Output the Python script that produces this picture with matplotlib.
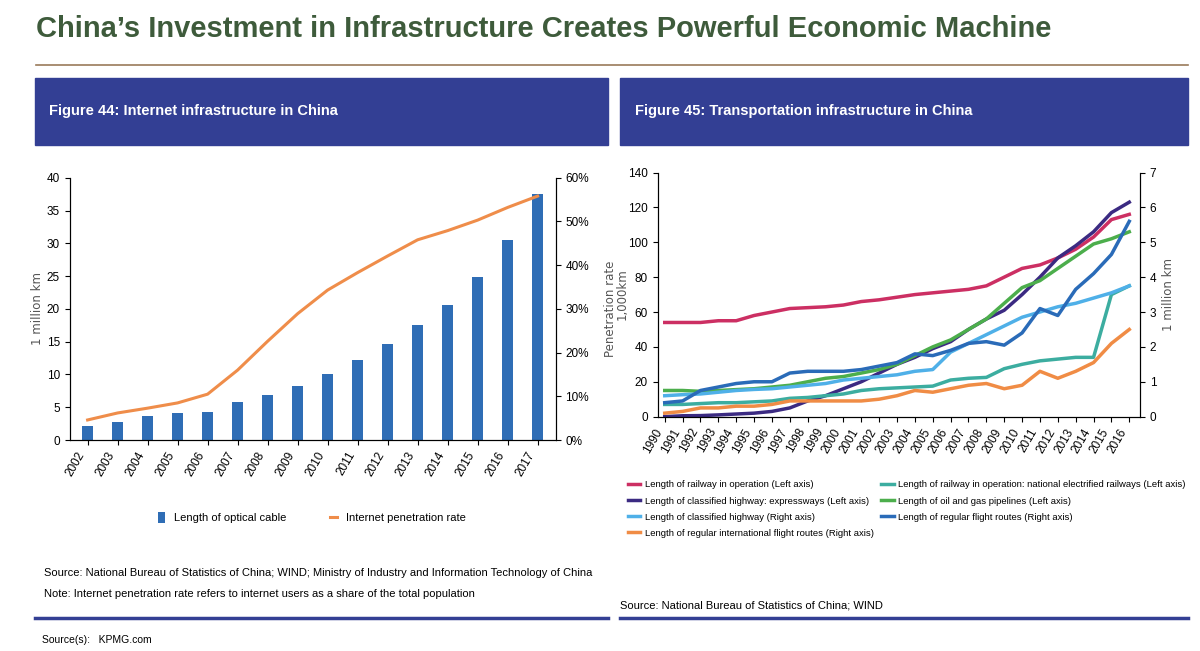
import matplotlib
matplotlib.use("Agg")
import matplotlib.pyplot as plt
import numpy as np
from matplotlib.patches import Rectangle

plt.rcParams['font.family'] = ['Liberation Sans', 'DejaVu Sans']

# Figure 44 data
cable_years = [str(y) for y in range(2002, 2018)]
cable_len = [2.2, 2.7, 3.6, 4.1, 4.3, 5.8, 6.9, 8.3, 10.1, 12.2, 14.7, 17.5, 20.6, 24.9, 30.5, 37.5]
penetration = [4.6, 6.2, 7.3, 8.5, 10.5, 16.0, 22.6, 28.9, 34.3, 38.3, 42.1, 45.8, 47.9, 50.3, 53.2, 55.8]

# Figure 45 data (1990-2016)
trans_years = list(range(1990, 2017))
railway = [54, 54, 54, 55, 55, 58, 60, 62, 62.5, 63, 64, 66, 67, 68.5, 70, 71, 72, 73, 75, 80, 85, 87, 91, 96, 103, 113, 116]
electrified = [7, 7, 7.5, 8, 8, 8.5, 9, 10.5, 11, 12, 13, 15, 16, 16.5, 17, 17.5, 21, 22, 22.5, 27.5, 30, 32, 33, 34, 34, 70, 75]
expressways = [0, 0.5, 0.6, 1, 1.5, 2, 3, 5, 9, 12, 16, 20, 25, 30, 34, 39, 43, 50, 56, 61, 70, 80, 91, 98, 106, 117, 123]
pipelines = [15, 15, 14.5, 15, 15.5, 16, 17, 18, 20, 22, 23, 25, 27, 30, 35, 40, 44, 50, 56, 65, 74, 78, 85, 92, 99, 102, 106]
highway = [0.60, 0.63, 0.65, 0.70, 0.75, 0.78, 0.80, 0.85, 0.90, 0.95, 1.05, 1.10, 1.15, 1.20, 1.30, 1.35, 1.85, 2.10, 2.35, 2.60, 2.85, 3.00, 3.15, 3.25, 3.40, 3.55, 3.75]
flight = [0.40, 0.45, 0.75, 0.85, 0.95, 1.00, 1.00, 1.25, 1.30, 1.30, 1.30, 1.35, 1.45, 1.55, 1.80, 1.75, 1.90, 2.10, 2.15, 2.05, 2.40, 3.10, 2.90, 3.65, 4.10, 4.65, 5.60]
intl_flight = [0.10, 0.15, 0.25, 0.25, 0.30, 0.30, 0.35, 0.45, 0.45, 0.45, 0.45, 0.45, 0.50, 0.60, 0.75, 0.70, 0.80, 0.90, 0.95, 0.80, 0.90, 1.30, 1.10, 1.30, 1.55, 2.10, 2.50]

navy = '#333f94'
fig = plt.figure(figsize=(12, 6.51), dpi=100)

fig.text(0.03, 0.955, "China\u2019s Investment in Infrastructure Creates Powerful Economic Machine",
         fontsize=21, fontweight='bold', color='#3e5b3b', va='center')
fig.add_artist(plt.Line2D([0.03, 0.99], [0.9, 0.9], color='#9a7a5a', lw=1.2))

for x0, w, t in [(0.029, 0.478, "Figure 44: Internet infrastructure in China"),
                 (0.517, 0.473, "Figure 45: Transportation infrastructure in China")]:
    fig.add_artist(Rectangle((x0, 0.778), w, 0.102, color=navy, transform=fig.transFigure))
    fig.text(x0 + 0.012, 0.83, t, color='white', fontsize=10.5, fontweight='bold', va='center')
    fig.add_artist(plt.Line2D([x0, x0 + w], [0.05, 0.05], color=navy, lw=2.5))

# Figure 44
ax = fig.add_axes([0.058, 0.324, 0.405, 0.403])
x = np.arange(len(cable_years))
ax.bar(x, cable_len, width=0.38, color='#2f6db5', label='Length of optical cable')
ax.set_ylim(0, 40)
ax.set_xlim(-0.6, len(x) - 0.4)
ax.set_yticks(range(0, 41, 5))
ax.set_xticks(x)
ax.set_xticklabels(cable_years, rotation=60, ha='right', fontsize=8.5)
ax.set_ylabel('1 million km', color='#555555', fontsize=8.5, family='DejaVu Sans', labelpad=2)
ax.tick_params(labelsize=8.5)
ax2 = ax.twinx()
ax2.plot(x, penetration, color='#ef8d4a', lw=2.2, label='Internet penetration rate')
ax2.set_ylim(0, 60)
ax2.set_yticks(range(0, 61, 10))
ax2.set_yticklabels([f'{v}%' for v in range(0, 61, 10)], fontsize=8.5)
ax2.set_ylabel('Penetration rate', color='#555555', fontsize=8.5, family='DejaVu Sans')
ax2.yaxis.set_label_coords(1.1, 0.5)
for a in (ax, ax2):
    a.spines['top'].set_visible(False)
h1, l1 = ax.get_legend_handles_labels()
h2, l2 = ax2.get_legend_handles_labels()
fig.legend(h1 + h2, l1 + l2, loc='center', bbox_to_anchor=(0.26, 0.205), ncol=2, frameon=False,
           fontsize=8, handlelength=0.6, handleheight=1.2, columnspacing=4)
fig.text(0.037, 0.115, "Source: National Bureau of Statistics of China; WIND; Ministry of Industry and Information Technology of China", fontsize=8)
fig.text(0.037, 0.083, "Note: Internet penetration rate refers to internet users as a share of the total population", fontsize=8)

# Figure 45
bx = fig.add_axes([0.548, 0.36, 0.402, 0.375])
bx.plot(trans_years, railway, color='#cc2f63', lw=2.5, label='Length of railway in operation (Left axis)')
bx.plot(trans_years, expressways, color='#3b2a82', lw=2.5, label='Length of classified highway: expressways (Left axis)')
bx.plot(trans_years, electrified, color='#3cada0', lw=2.5, label='Length of railway in operation: national electrified railways (Left axis)')
bx.plot(trans_years, pipelines, color='#4cae4c', lw=2.5, label='Length of oil and gas pipelines (Left axis)')
bx.set_ylim(0, 140)
bx.set_yticks(range(0, 141, 20))
bx.set_xlim(1989.6, 2016.6)
bx.set_xticks(trans_years)
bx.set_xticklabels(trans_years, rotation=60, ha='right', fontsize=7.5)
bx.set_ylabel('1,000km', color='#555555', fontsize=8.5, family='DejaVu Sans')
bx.yaxis.set_label_coords(-0.06, 0.5)
bx.tick_params(labelsize=8.5)
bx2 = bx.twinx()
bx2.plot(trans_years, highway, color='#4fb0e8', lw=2.5, label='Length of classified highway (Right axis)')
bx2.plot(trans_years, flight, color='#2a6bb8', lw=2.5, label='Length of regular flight routes (Right axis)')
bx2.plot(trans_years, intl_flight, color='#f08c45', lw=2.5, label='Length of regular international flight routes (Right axis)')
bx2.set_ylim(0, 7)
bx2.set_yticks(range(0, 8))
bx2.tick_params(labelsize=8.5)
bx2.set_ylabel('1 million km', color='#555555', fontsize=8.5, family='DejaVu Sans')
for a in (bx, bx2):
    a.spines['top'].set_visible(False)
hs, ls = bx.get_legend_handles_labels()
hr, lr = bx2.get_legend_handles_labels()
handles = [hs[0], hs[2], hs[1], hs[3], hr[0], hr[1], hr[2]]
labels = [ls[0], ls[2], ls[1], ls[3], lr[0], lr[1], lr[2]]
# row-wise order in 2 columns
col1 = [0, 2, 4, 6]
col2 = [1, 3, 5]
fig.legend([handles[i] for i in col1 + col2], [labels[i] for i in col1 + col2],
           loc='upper left', bbox_to_anchor=(0.516, 0.275), ncol=2, frameon=False,
           fontsize=6.8, handlelength=1.3, handletextpad=0.5, columnspacing=0.8, labelspacing=0.75)
fig.text(0.517, 0.065, "Source: National Bureau of Statistics of China; WIND", fontsize=8)

fig.text(0.035, 0.013, "Source(s):   KPMG.com", fontsize=7.5)

fig.savefig('out.png', dpi=100)
